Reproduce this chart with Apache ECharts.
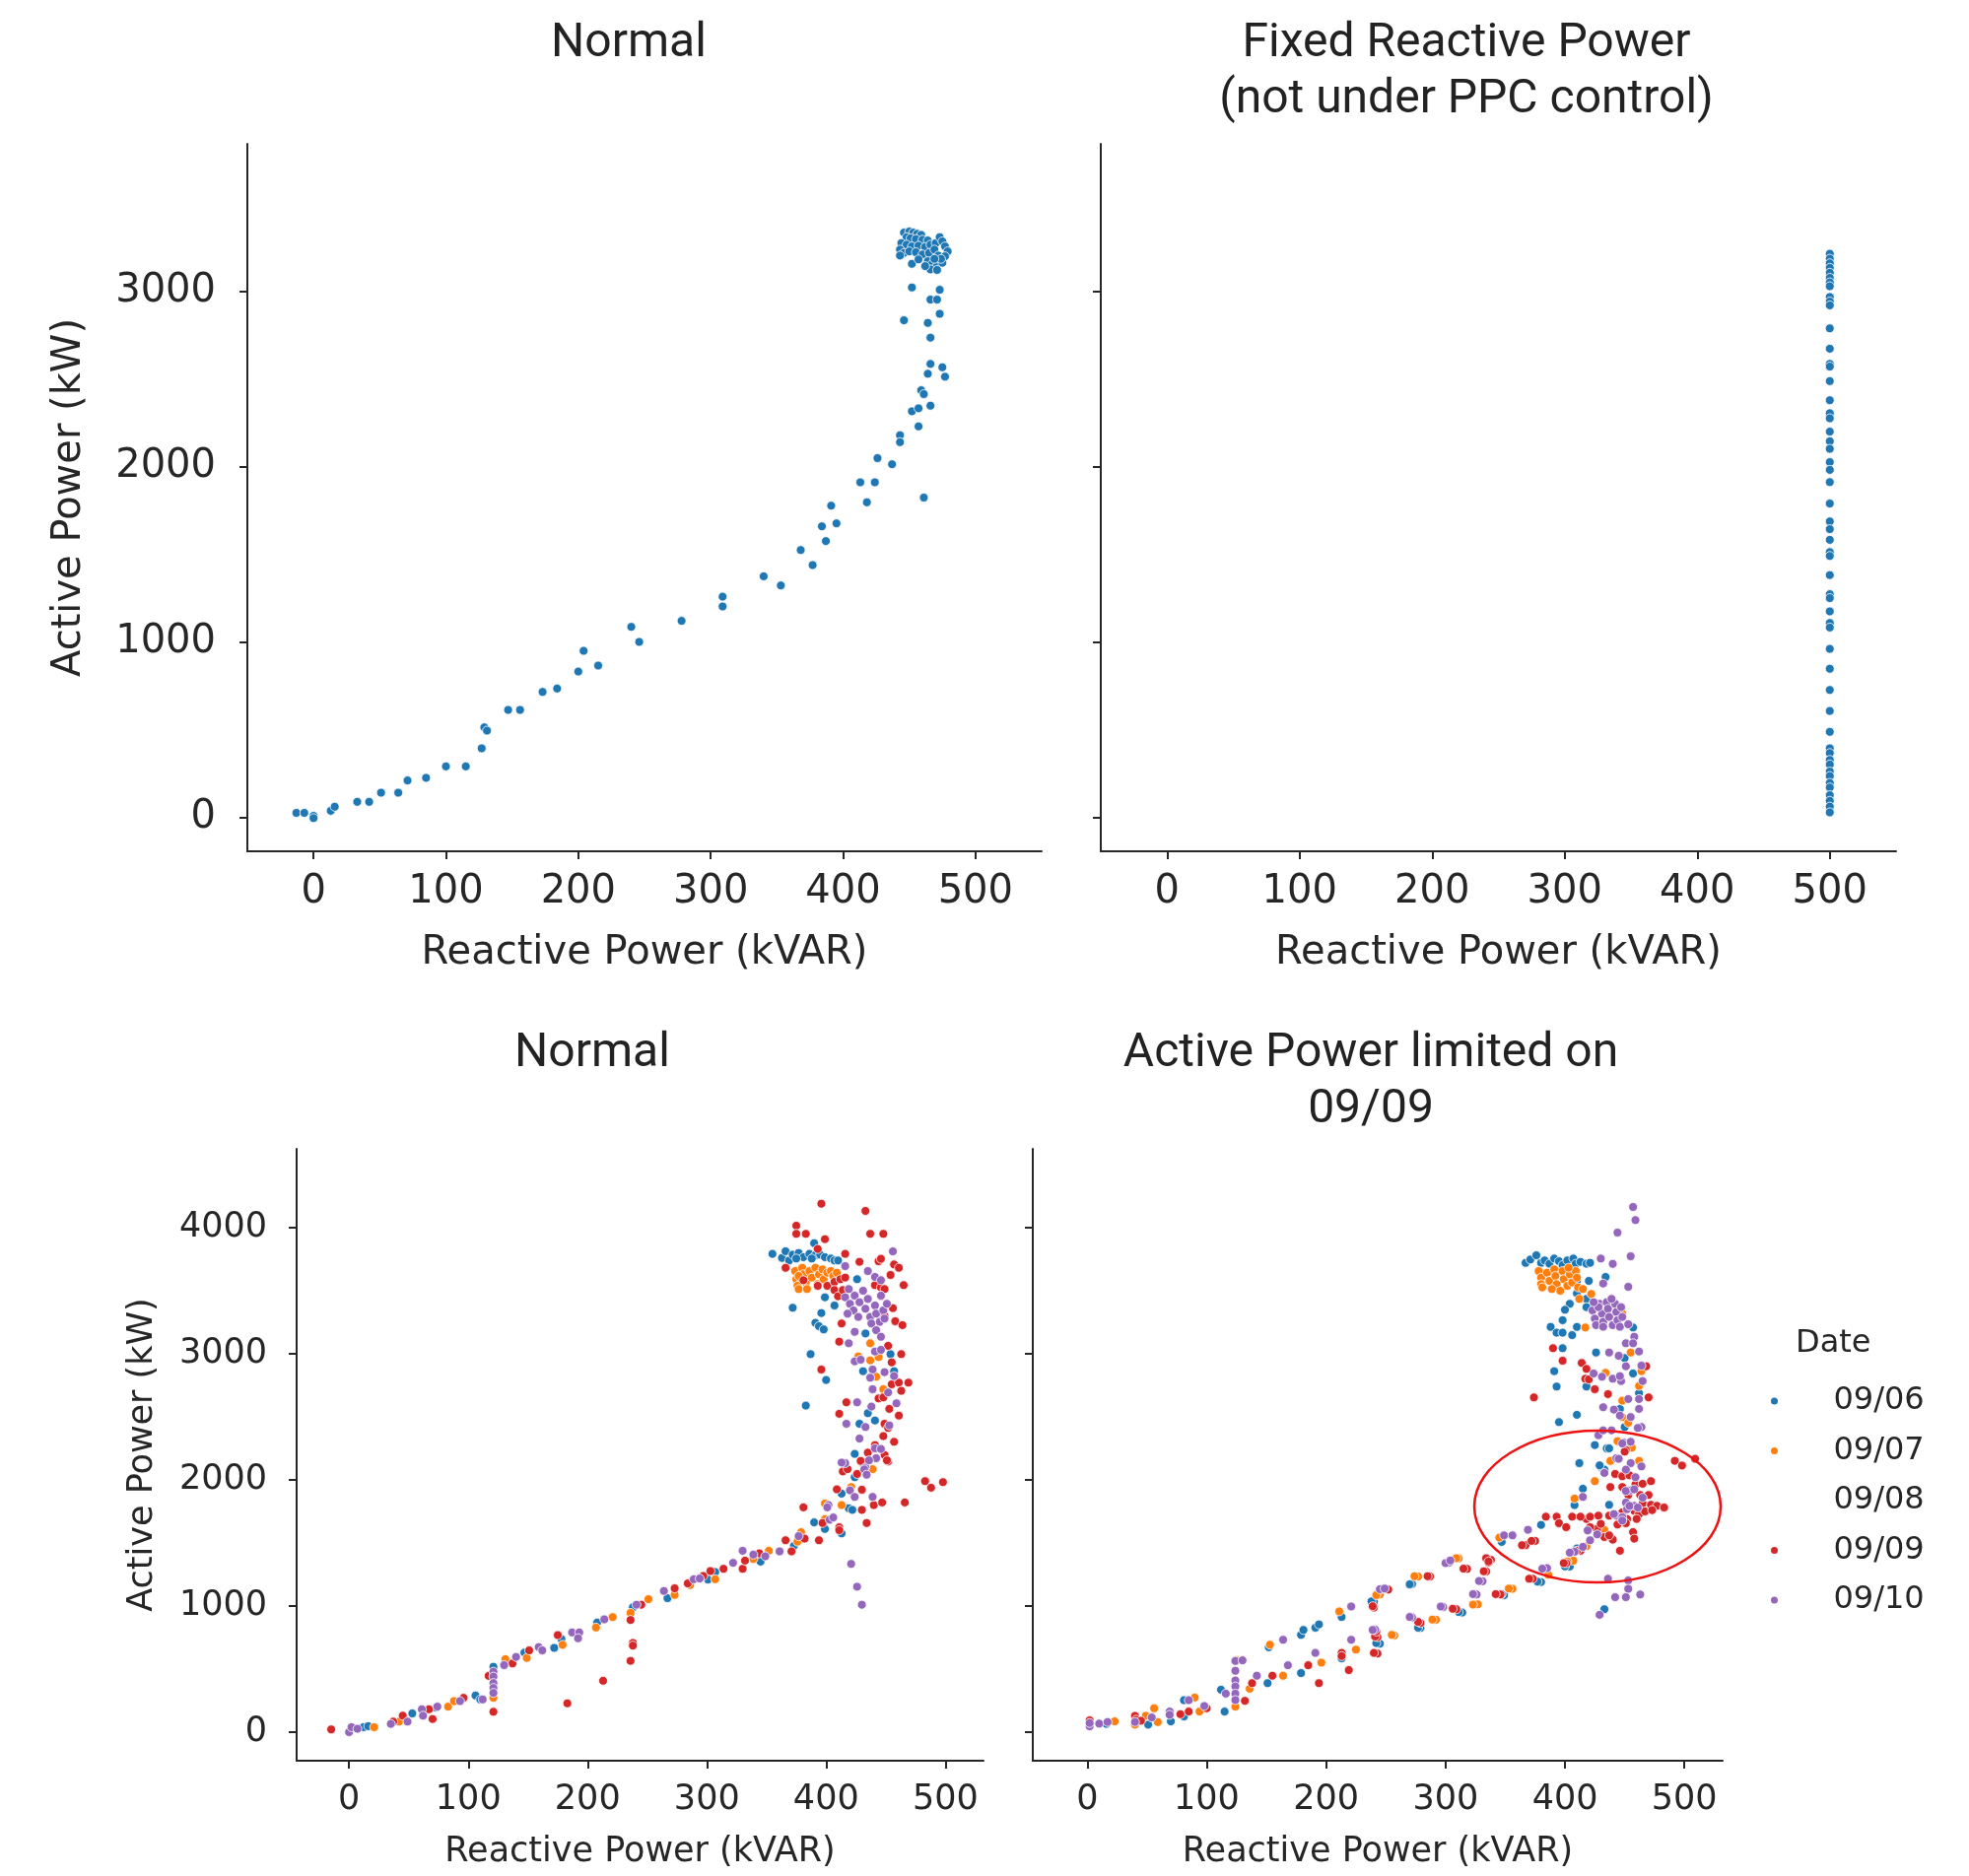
<!DOCTYPE html>
<html>
<head>
<meta charset="utf-8">
<script src="https://cdn.jsdelivr.net/npm/echarts@6/dist/echarts.min.js"></script>
<style>html,body{margin:0;padding:0;background:#fff;}#c{width:1998px;height:1904px;}</style>
</head>
<body>
<div id="c"></div>
<script>
// ---------------- DATA ----------------
const xTicks = [0, 100, 200, 300, 400, 500];
const yTicksTop = [0, 1000, 2000, 3000];
const yTicksBottom = [0, 1000, 2000, 3000, 4000];
const dates = ['09/06', '09/07', '09/08', '09/09', '09/10'];

// Top-left "Normal": [Reactive kVAR, Active kW]
const topNormal = [
[-13,25],[-7,25],[0,8],[0,-5],[13,37],[16,60],[33,88],[42,88],[51,140],[64,140],[71,210],[85,225],[100,290],[115,290],
[127,393],[129,513],[131,494],[147,612],[156,612],[173,715],[184,734],[200,831],[204,949],[215,865],[240,1086],[246,1000],
[278,1120],[309,1258],[309,1202],[340,1374],[353,1322],[368,1524],[377,1438],[384,1659],[387,1575],[391,1777],[395,1676],
[413,1910],[418,1796],[424,1910],[426,2048],[437,2013],[443,2179],[443,2139],[457,2229],[452,2315],[457,2332],[466,2347],
[459,2435],[461,2413],[466,2585],[464,2529],[475,2566],[477,2512],[466,2735],[464,2819],[446,2834],[473,2871],[466,2952],
[471,2952],[473,3008],[452,3021],[461,1823],
[446,3334],[450,3340],[453,3334],[456,3327],[459,3321],[448,3308],[451,3302],[455,3297],[460,3293],[464,3289],[444,3274],
[448,3265],[452,3255],[457,3259],[462,3252],[466,3265],[470,3274],[473,3308],[475,3284],[477,3255],[479,3227],[443,3237],
[446,3218],[450,3227],[455,3222],[460,3209],[465,3218],[469,3237],[472,3203],[477,3199],[443,3203],[452,3156],[457,3181],
[464,3171],[467,3152],[471,3143],[475,3162],[466,3124],[471,3121],[474,3184],[462,3143],[469,3184]
];

// Top-right "Fixed Reactive Power": all at 500 kVAR
const fixedReactive = 500;
const fixedActive = [3213,3185,3159,3133,3105,3076,3050,3028,2967,2941,2919,2788,2672,2585,2570,2487,2378,2304,2275,2199,
2144,2101,2025,1981,1911,1789,1687,1643,1582,1512,1490,1381,1272,1250,1174,1108,1082,960,847,726,606,487,393,366,327,301,
261,235,196,170,126,94,61,28];

// Bottom-left "Normal" by date
const bl0906 = [
[363,3760],[366,3813],[369,3740],[372,3786],[377,3799],[381,3766],[386,3792],[391,3781],[395,3786],[399,3766],[404,3755],
[407,3740],[410,3740],[375,3755],[388,3755],
[355,3792],[390,3877],[372,3365],[396,3323],[399,3448],[407,3383],[391,3245],[394,3219],[398,3193],[387,2997],[400,2792],
[383,2589],[426,3591],[433,3161],[454,2997],[431,2862],[457,2862],[435,2529],[428,2445],[441,2471],[424,2206],
[12,39],[16,47],[53,148],[73,194],[106,290],[110,259],[121,518],[147,630],[172,668],[178,738],[208,868],[238,990],[267,1062],
[301,1210],[307,1269],[345,1352],[373,1477],[390,1663],[399,1611],[413,1575],[413,1891],[419,1775],[422,1762],[424,2021]
];
const bl0907 = [
[374,3656],[375,3591],[376,3539],[377,3513],[380,3682],[381,3630],[383,3565],[386,3656],[388,3604],[391,3682],[393,3552],
[394,3630],[397,3669],[398,3591],[401,3643],[404,3656],[406,3617],[409,3643],[384,3513],[377,3617],
[437,3083],[437,2948],[444,2974],[427,2979],[442,2818],[448,2719],
[21,39],[42,83],[83,202],[88,246],[121,272],[131,578],[149,588],[179,692],[207,829],[221,912],[236,945],[251,1054],[273,1088],
[286,1166],[307,1212],[339,1373],[352,1438],[376,1510],[379,1585],[399,1689],[399,1813],[413,1800],[421,1943],[439,2085]
];
const bl0908 = [];
const bl0909 = [
[396,4190],[433,4133],[375,4016],[375,3951],[383,3951],[399,3909],[437,3951],[448,3951],[416,3792],[428,3729],[444,3734],
[446,3753],[457,3708],[461,3682],[366,3682],[393,3831],[454,3625],[465,3544],[381,3583],[393,3539],[401,3539],[407,3570],
[412,3591],[416,3604],[407,3505],[410,3456],[414,3505],[441,3544],[446,3526],[449,3513],[446,3456],[456,3362],[458,3258],
[464,3227],[449,3300],[413,3240],[411,3096],[452,3063],[455,2932],[463,2997],[396,2875],[455,2758],[461,2771],[469,2771],
[463,2706],[444,2646],[448,2654],[417,2615],[411,2524],[453,2563],[461,2510],[449,2445],[452,2412],[448,2347],[441,2276],
[457,2302],[435,2216],[449,2198],[431,2133],[452,2146],
[-15,21],[37,83],[45,130],[67,181],[70,104],[96,272],[121,161],[117,446],[137,544],[151,648],[175,769],[183,228],[213,407],
[236,565],[238,707],[238,686],[236,889],[245,1010],[273,1140],[284,1179],[297,1238],[303,1277],[314,1295],[330,1295],
[332,1360],[344,1417],[366,1521],[371,1433],[382,1534],[381,1782],[394,1521],[397,1658],[411,1624],[411,1601],[409,1925],
[434,1658],[430,1762],[440,1800],[447,1821],[466,1821],[483,1990],[488,1938],[498,1982],[451,2155],[414,2067],[418,2085],
[426,2047],[429,2150],[430,1922]
];
const bl0910 = [
[416,3448],[419,3513],[420,3396],[423,3344],[424,3461],[427,3292],[428,3409],[431,3500],[433,3357],[435,3435],[437,3292],
[438,3240],[441,3383],[442,3318],[445,3253],[446,3461],[448,3344],[449,3279],[451,3396],[418,3318],
[456,3812],[416,3695],[435,3656],[441,3609],[446,3583],[419,3083],[424,3174],[442,3187],[446,3135],[441,3018],[446,3031],
[424,2940],[429,2953],[439,2875],[437,2810],[449,2854],[457,2823],[439,2719],[452,2693],[426,2615],[438,2581],[459,2607],
[417,2445],[433,2419],[453,2432],[428,2328],[441,2250],[446,2245],[416,2133],[442,2172],
[0,0],[2,39],[7,26],[35,65],[49,83],[61,181],[62,130],[74,202],[93,246],[112,259],[121,479],[121,440],[121,389],[121,350],
[121,311],[130,531],[140,596],[159,674],[162,648],[187,790],[193,790],[192,744],[214,894],[241,1010],[264,1119],[289,1212],
[294,1218],[322,1342],[330,1438],[339,1407],[349,1394],[361,1433],[377,1554],[403,1684],[406,1702],[402,1800],[401,1782],
[421,1334],[426,1153],[430,1010],[413,2137],[433,2098],[436,2155],[432,2083],[434,2041],[420,1917],[424,1865],[439,1865]
];

// Bottom-right "Active Power limited on 09/09" by date
const br0906 = [
[367,3721],[371,3747],[376,3781],[380,3721],[383,3740],[387,3714],[391,3755],[395,3734],[398,3703],[402,3740],[407,3755],
[409,3714],[413,3729],[418,3714],[421,3721],
[406,3604],[410,3578],[420,3578],[434,3609],[410,3479],[418,3435],[404,3396],[400,3349],[398,3266],[418,3370],[388,3213],
[393,3167],[398,3167],[406,3148],[410,3213],[398,3044],[426,3010],[391,2862],[393,2740],[418,2740],[450,2966],[457,2844],
[457,3208],[395,2458],[410,2516],[425,2276],[435,2250],[437,2250],[412,2133],[431,2094],[433,2081],[446,2563],[450,2419],
[462,2688],[429,2115],[415,1930],[408,1800],[437,1802],[380,1643],[347,1508],[410,1456],[404,1313],[380,1190],[349,1086],
[314,948],[433,974],[272,1175],[240,1034],[279,826],[245,701],
[16,65],[51,59],[70,85],[81,253],[81,124],[112,336],[115,163],[151,388],[179,468],[152,673],[179,771],[181,810],[191,828],
[194,854],[213,913],[213,585],[238,1037],[242,706],[270,1172],[277,828],[311,952],[347,1094],[377,1193],[400,1314]
];
const br0907 = [
[378,3656],[380,3604],[380,3552],[381,3526],[385,3643],[387,3578],[391,3669],[392,3617],[393,3552],[396,3500],[398,3656],
[399,3591],[402,3539],[404,3630],[406,3565],[409,3656],[410,3604],[411,3526],[389,3513],[403,3682],
[412,3435],[415,3513],[422,3474],[417,3208],[435,3409],[443,3383],[448,3318],[455,3010],[434,2849],[464,2862],[462,2745],
[448,2628],[448,2498],[453,2453],[444,2307],[456,2255],[438,2146],[462,2151],
[438,2151],[425,1990],[408,1852],[433,1604],[345,1542],[418,1474],[407,1359],[386,1247],[311,1378],[277,1234],[356,1136],
[327,1013],[292,891],[257,766],[245,1091],
[23,85],[40,59],[49,129],[56,189],[59,80],[90,274],[94,163],[125,569],[124,202],[136,344],[164,447],[196,551],[153,693],
[211,957],[225,654],[242,1086],[255,771],[274,1236],[289,892],[309,1379],[323,1011],[353,1138],[402,1353]
];
const br0908 = [];
const br0909 = [
[390,3044],[398,2945],[414,2927],[418,2880],[417,2802],[420,2797],[425,2719],[374,2654],[436,2680],[470,2654],[468,2901],
[451,2237],[492,2151],[498,2114],
[438,1943],[448,1943],[442,2047],[448,2029],[454,2036],[459,1964],[465,1969],[472,1990],[453,1880],[463,1880],[470,1880],
[465,1813],[472,1802],[477,1794],[483,1781],[458,1755],[462,1729],[467,1750],[473,1760],[448,1742],[452,1690],[460,1690],
[437,1716],[444,1646],[451,1656],[457,1586],[458,1534],[440,1526],[433,1547],[427,1612],[421,1625],[418,1690],
[384,1708],[393,1708],[395,1656],[406,1708],[413,1708],[421,1708],[428,1716],[430,1651],
[401,1625],[375,1516],[367,1482],[437,1560],[446,1438],[401,1339],[413,1438],[509,2167],[450,2224],[338,1365],[336,1344],
[334,1274],[318,1294],[287,1234],[373,1216],[346,1091],[309,974],[252,1130],[240,987],[279,865],[243,753],[243,623],
[2,93],[40,129],[41,98],[45,90],[78,142],[85,163],[100,189],[132,248],[138,388],[155,447],[185,530],[194,388],[213,628],
[213,603],[219,492],[239,998],[241,758],[242,797],[240,628],[285,1236],[277,874],[306,978],[315,1296],[332,1275],[334,1379],
[336,1353],[342,1094],[364,1482],[372,1516],[370,1216],[399,1340],[410,1438]
];
const br0910 = [
[457,4164],[459,4060],[444,3961],[455,3773],[430,3755],[440,3713],[432,3557],[453,3531],
[423,3344],[425,3279],[426,3227],[429,3396],[431,3318],[432,3253],[435,3409],[436,3357],[437,3292],[440,3227],[442,3396],
[443,3331],[444,3266],[447,3370],[448,3292],[432,3214],[428,3370],[439,3435],[446,3214],[424,3409],[453,3234],[458,3135],
[451,3083],[457,3083],
[437,3010],[445,2984],[451,2901],[462,3018],[464,2906],[424,2844],[431,2818],[440,2802],[447,2784],[446,2823],[465,2784],
[462,2641],[453,2641],[432,2576],[441,2557],[446,2510],[455,2498],[462,2563],[464,2419],[428,2354],[432,2393],[439,2393],
[449,2297],[455,2302],[443,2172],[455,2133],[464,2107],
[461,2412],[448,2289],[445,2167],[433,2055],[451,2081],[415,1865],[459,2021],[455,1917],[465,1859],[451,1820],[458,1794],
[452,1768],[443,1716],[448,1703],[419,1599],[427,1568],[421,1521],[408,1430],[369,1604],[349,1560],[356,1560],[385,1300],
[436,1216],[453,1203],[453,1136],[442,1070],[451,1070],[463,1091],[429,930],[303,1344],[331,1196],[326,1091],[298,992],
[272,909],[247,1136],[241,813],[451,1912],[458,1925],[454,1794],[461,1781],[441,1729],[448,1677],
[2,46],[2,72],[10,67],[17,80],[40,80],[54,116],[69,163],[69,137],[85,253],[98,207],[116,305],[124,564],[124,486],[124,409],
[124,362],[124,305],[124,254],[130,569],[142,447],[168,530],[191,628],[164,732],[221,996],[221,732],[245,1133],[249,1138],
[239,810],[270,913],[296,996],[300,1340],[304,1361],[328,1198],[323,1094],[381,1296],[404,1423],[415,1469]
];

// ---------------- CHART ----------------
const INK = '#262626';
const colors = {'09/06':'#1f77b4','09/07':'#ff7f0e','09/08':'rgba(0,0,0,0)','09/09':'#d62728','09/10':'#9467bd'};
const chart = echarts.init(document.getElementById('c'), null, {renderer:'canvas'});

function xAxisCfg(gi, min, max, fs, nameGap){
  return {type:'value', gridIndex:gi, min, max, name:'Reactive Power (kVAR)', nameLocation:'middle', nameGap,
    nameTextStyle:{fontFamily:'DejaVu Sans', fontSize:fs, color:INK},
    axisLine:{show:true, onZero:false, lineStyle:{color:INK, width:2}},
    axisTick:{show:true, length:8, customValues:xTicks, lineStyle:{color:INK, width:2}},
    axisLabel:{show:true, customValues:xTicks, margin:22, fontFamily:'DejaVu Sans', fontSize:fs, color:INK, formatter:v=>String(v)},
    splitLine:{show:false}};
}
function yAxisCfg(gi, min, max, ticks, fs, showLabels, nameGap, margin){
  return {type:'value', gridIndex:gi, min, max, name: showLabels ? 'Active Power (kW)' : '', nameLocation:'middle', nameGap,
    nameTextStyle:{fontFamily:'DejaVu Sans', fontSize:fs, color:INK},
    axisLine:{show:true, onZero:false, lineStyle:{color:INK, width:2}},
    axisTick:{show:true, length:8, customValues:ticks, lineStyle:{color:INK, width:2}},
    axisLabel:{show:showLabels, customValues:ticks, margin, fontFamily:'DejaVu Sans', fontSize:fs, color:INK, formatter:v=>String(v)},
    splitLine:{show:false}};
}
function sc(name, data, gi, color){
  return {type:'scatter', name, xAxisIndex:gi, yAxisIndex:gi, data, symbol:'circle', symbolSize:9,
    itemStyle:{color, borderColor:'#ffffff', borderWidth:0.8, opacity:1}, emphasis:{disabled:true}, silent:true};
}

const blSets = [bl0906, bl0907, bl0908, bl0909, bl0910];
const brSets = [br0906, br0907, br0908, br0909, br0910];
const series = [
  sc('Normal top', topNormal, 0, '#1f77b4'),
  sc('Fixed top', fixedActive.map(y => [fixedReactive, y]), 1, '#1f77b4')
];
dates.forEach((d,i) => series.push(sc(d, blSets[i], 2, colors[d])));
dates.forEach((d,i) => series.push(sc(d, brSets[i], 3, colors[d])));

const titleFont = '48px Roboto';
const option = {
  animation:false,
  backgroundColor:'#ffffff',
  grid:[
    {left:251, top:146, width:806, height:718},
    {left:1117, top:146, width:807, height:718},
    {left:301, top:1166, width:697, height:621},
    {left:1048, top:1166, width:700, height:621}
  ],
  xAxis:[
    xAxisCfg(0, -50, 550, 40, 84),
    xAxisCfg(1, -50, 550, 40, 84),
    xAxisCfg(2, -44, 532, 35, 75),
    xAxisCfg(3, -45.6, 532, 35, 75)
  ],
  yAxis:[
    yAxisCfg(0, -194, 3840, yTicksTop, 40, true, 160, 32),
    yAxisCfg(1, -194, 3840, yTicksTop, 40, false, 160, 32),
    yAxisCfg(2, -227, 4625, yTicksBottom, 35, true, 139, 30),
    yAxisCfg(3, -227, 4625, yTicksBottom, 35, false, 139, 30)
  ],
  legend:{
    data:dates, orient:'vertical', left:1790, top:1401, itemGap:18.5,
    itemWidth:110, itemHeight:9, icon:'circle', selectedMode:false,
    textStyle:{fontFamily:'DejaVu Sans', fontSize:32, color:INK, lineHeight:32}
  },
  graphic:[
    {type:'text', x:638, y:45, style:{text:'Normal', font:titleFont, fill:'#222', textAlign:'center', textVerticalAlign:'middle'}},
    {type:'text', x:1488, y:45, style:{text:'Fixed Reactive Power', font:titleFont, fill:'#222', textAlign:'center', textVerticalAlign:'middle'}},
    {type:'text', x:1488, y:102, style:{text:'(not under PPC control)', font:titleFont, fill:'#222', textAlign:'center', textVerticalAlign:'middle'}},
    {type:'text', x:601, y:1070, style:{text:'Normal', font:titleFont, fill:'#222', textAlign:'center', textVerticalAlign:'middle'}},
    {type:'text', x:1391, y:1070, style:{text:'Active Power limited on', font:titleFont, fill:'#222', textAlign:'center', textVerticalAlign:'middle'}},
    {type:'text', x:1391, y:1127, style:{text:'09/09', font:titleFont, fill:'#222', textAlign:'center', textVerticalAlign:'middle'}},
    {type:'text', x:1822, y:1364, style:{text:'Date', font:'32px "DejaVu Sans"', fill:INK, textAlign:'left', textVerticalAlign:'middle'}},
    {type:'ellipse', shape:{cx:1621, cy:1529, rx:125, ry:77}, style:{fill:'none', stroke:'#ee1111', lineWidth:2.5}, z:100}
  ],
  series
};
chart.setOption(option);
</script>
</body>
</html>
